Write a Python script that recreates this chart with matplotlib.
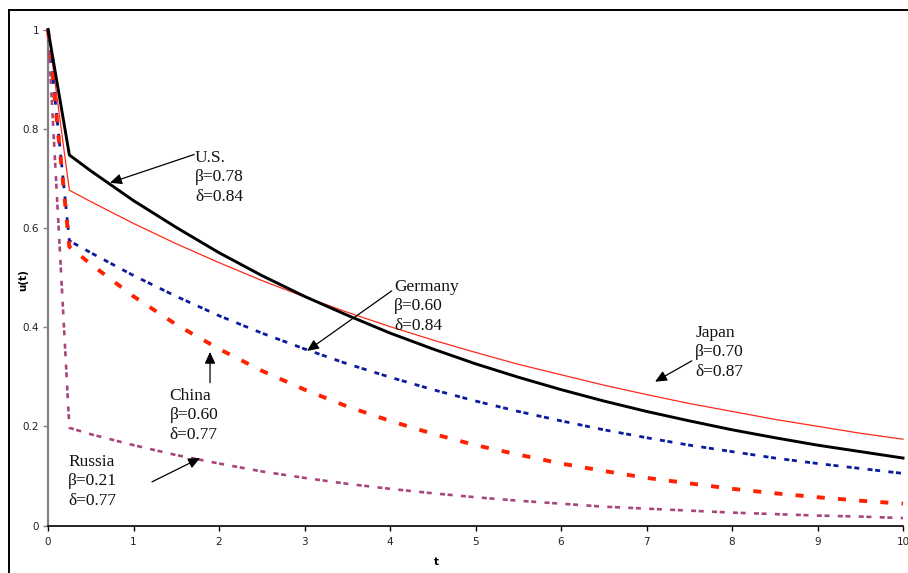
import matplotlib
matplotlib.use("Agg")
import matplotlib.pyplot as plt
from matplotlib.lines import Line2D

plt.rcParams['lines.scale_dashes'] = False

# ---- data ----
t = [0, 0.25, 0.5, 1, 1.5, 2, 2.5, 3, 3.5, 4, 4.5, 5, 5.5, 6, 6.5, 7, 7.5, 8, 8.5, 9, 9.5, 10]

us = [1, 0.747, 0.715, 0.655, 0.601, 0.550, 0.504, 0.462, 0.424, 0.388, 0.356, 0.326,
      0.299, 0.274, 0.251, 0.230, 0.211, 0.193, 0.177, 0.162, 0.149, 0.136]
japan = [1, 0.676, 0.653, 0.609, 0.568, 0.530, 0.494, 0.461, 0.430, 0.401, 0.374, 0.349,
         0.325, 0.304, 0.283, 0.264, 0.246, 0.230, 0.214, 0.200, 0.186, 0.174]
germany = [1, 0.574, 0.550, 0.504, 0.462, 0.423, 0.388, 0.356, 0.326, 0.299, 0.274, 0.251,
           0.230, 0.211, 0.193, 0.177, 0.162, 0.149, 0.136, 0.125, 0.115, 0.105]
china = [1, 0.562, 0.527, 0.462, 0.405, 0.356, 0.312, 0.274, 0.240, 0.211, 0.185, 0.162,
         0.143, 0.125, 0.110, 0.096, 0.085, 0.074, 0.065, 0.057, 0.050, 0.044]
russia = [1, 0.197, 0.184, 0.162, 0.142, 0.125, 0.109, 0.096, 0.084, 0.074, 0.065, 0.057,
          0.050, 0.044, 0.038, 0.034, 0.030, 0.026, 0.023, 0.020, 0.018, 0.015]

xticks = [0, 1, 2, 3, 4, 5, 6, 7, 8, 9, 10]
xtick_labels = ['0', '1', '2', '3', '4', '5', '6', '7', '8', '9', '10']
yticks = [0, 0.2, 0.4, 0.6, 0.8, 1]
ytick_labels = ['0', '0.2', '0.4', '0.6', '0.8', '1']

labels = ["U.S.\nβ=0.78\nδ=0.84",
          "Germany\nβ=0.60\nδ=0.84",
          "Japan\nβ=0.70\nδ=0.87",
          "China\nβ=0.60\nδ=0.77",
          "Russia\nβ=0.21\nδ=0.77"]
label_pos = [(1.72, 0.702), (4.05, 0.442), (7.57, 0.349), (1.42, 0.222), (0.235, 0.089)]
arrow_tail = [(1.71, 0.748), (4.02, 0.473), (7.53, 0.332), (1.895, 0.288), (1.216, 0.088)]
arrow_head = [(0.725, 0.691), (3.03, 0.352), (7.10, 0.290), (1.895, 0.350), (1.778, 0.136)]

# ---- figure ----
fig = plt.figure(figsize=(9.08, 5.73), dpi=100)
fig.patch.set_facecolor('white')
ax = fig.add_axes([48 / 908, 47.5 / 573, 855 / 908, 496 / 573])

ax.plot(t, japan, color='#ff2a1a', lw=0.9, clip_on=False, zorder=3)
ax.plot(t, us, color='black', lw=2.1, clip_on=False, zorder=4)
ax.plot(t, germany, color='#0a1a9c', lw=2.0, dashes=(3.6, 1.9, 3.6, 6.0),
        clip_on=False, zorder=3)
ax.plot(t, china, color='#ff2200', lw=2.8, dashes=(5.8, 9.5), clip_on=False, zorder=3)
ax.plot(t, russia, color='#a8457c', lw=1.9, dashes=(3.6, 1.9, 3.6, 6.0),
        clip_on=False, zorder=3)

ax.set_xlim(0, 10)
ax.set_ylim(0, 1)
ax.set_xticks(xticks)
ax.set_xticklabels(xtick_labels)
ax.set_yticks(yticks)
ax.set_yticklabels(ytick_labels)

for s in ['top', 'right']:
    ax.spines[s].set_visible(False)
ax.spines['left'].set_color('#808080')
ax.spines['left'].set_linewidth(1.6)
ax.spines['bottom'].set_color('black')
ax.spines['bottom'].set_linewidth(1.2)

ax.tick_params(axis='x', direction='out', length=3.5, width=1, colors='black',
               labelsize=7.5, pad=5, labelcolor='#222222')
ax.tick_params(axis='y', direction='out', length=3.5, width=1, color='#808080',
               labelsize=7.5, pad=3, labelcolor='#222222')

ax.set_ylabel('u(t)', fontsize=7.5, fontweight='bold')
ax.set_xlabel('t', fontsize=7.5, fontweight='bold')
ax.yaxis.set_label_coords((28 - 48) / 855, (525.5 - 280) / 496)
ax.xaxis.set_label_coords((436 - 48) / 855, -(557 - 525.5) / 496)

for lab, pos in zip(labels, label_pos):
    ax.text(pos[0], pos[1], lab, ha='left', va='center', fontsize=12.5,
            family='Liberation Serif', color='#111111', linespacing=1.3, zorder=6)

for tail, head in zip(arrow_tail, arrow_head):
    ax.annotate('', xy=head, xytext=tail, xycoords='data', textcoords='data',
                arrowprops=dict(arrowstyle='-|>,head_length=0.7,head_width=0.32',
                                lw=0.9, color='black', shrinkA=0, shrinkB=0),
                annotation_clip=False, zorder=7)

# outer frame (top and left edges visible)
fig.add_artist(Line2D([8.5 / 908, 1.0], [1 - 9.5 / 573, 1 - 9.5 / 573],
                      transform=fig.transFigure, color='black', lw=1.4))
fig.add_artist(Line2D([8.5 / 908, 8.5 / 908], [0, 1 - 9.5 / 573],
                      transform=fig.transFigure, color='black', lw=1.4))

fig.savefig('out.png', dpi=100)
